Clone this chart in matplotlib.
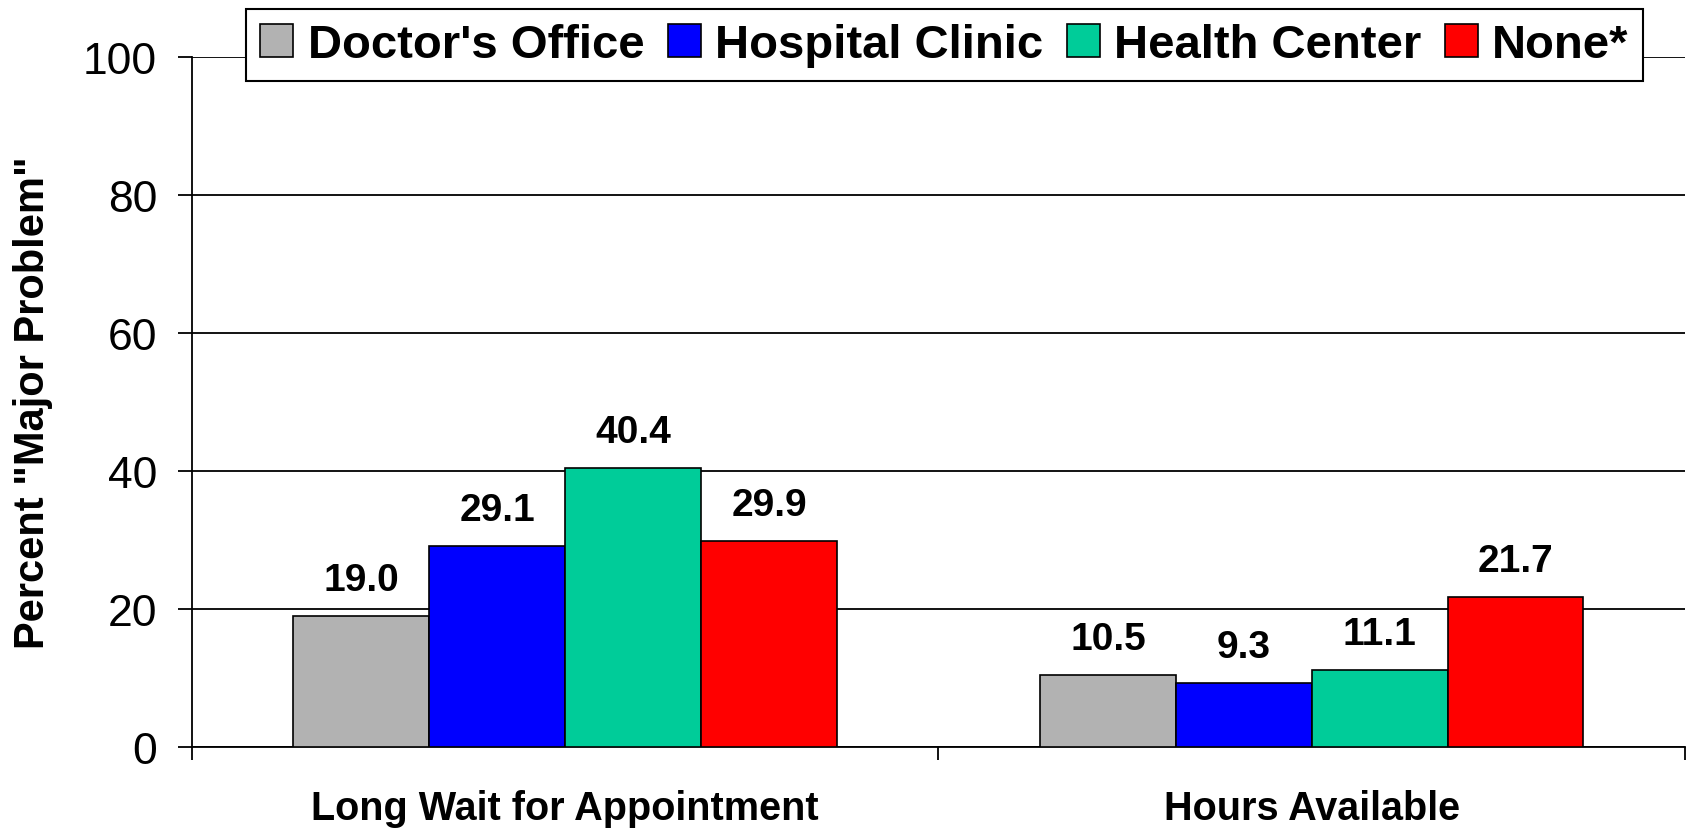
import matplotlib
matplotlib.use("Agg")
import matplotlib.pyplot as plt
import numpy as np

categories = ["Long Wait for Appointment", "Hours Available"]
series_names = ["Doctor's Office", "Hospital Clinic", "Health Center", "None*"]
doctors_office = [19.0, 10.5]
hospital_clinic = [29.1, 9.3]
health_center = [40.4, 11.1]
none_star = [29.9, 21.7]
colors = ["#B2B2B2", "#0000FF", "#00CC99", "#FF0000"]
yticks = [0, 20, 40, 60, 80, 100]

series = [doctors_office, hospital_clinic, health_center, none_star]

plt.rcParams['font.family'] = ['Liberation Sans', 'DejaVu Sans']

fig = plt.figure(figsize=(16.94, 8.29), dpi=100)
ax = fig.add_axes([0.1133, 0.0977, 0.9947 - 0.1133, 0.930 - 0.0977])

x = np.arange(len(categories))
bw = 0.182
for i, (vals, name, c) in enumerate(zip(series, series_names, colors)):
    pos = x + (i - 1.5) * bw
    bars = ax.bar(pos, vals, bw, color=c, edgecolor='black', linewidth=1.2,
                  label=name, zorder=3)
    for b, v in zip(bars, vals):
        ax.annotate(f"{v:.1f}", (b.get_x() + b.get_width() / 2, v),
                    xytext=(0, 13), textcoords='offset points',
                    ha='center', va='bottom', fontsize=28, fontweight='bold')

ax.set_xlim(-0.5, 1.5)
ax.set_ylim(0, 100)
ax.set_yticks(yticks)
ax.set_yticklabels([str(t) for t in yticks], fontsize=32)
ax.yaxis.grid(True, color='black', linewidth=1.3, zorder=0)
ax.set_axisbelow(True)

ax.set_xticks(x)
ax.set_xticklabels(categories, fontsize=28.5, fontweight='bold')
ax.set_xticks([-0.5, 0.5, 1.5], minor=True)
ax.tick_params(axis='x', which='major', length=0, pad=30)
ax.tick_params(axis='x', which='minor', length=9, width=1.3, direction='out')
ax.tick_params(axis='y', length=10, width=1.3, direction='out', pad=15)

for s in ['top', 'right']:
    ax.spines[s].set_visible(False)
for s in ['left', 'bottom']:
    ax.spines[s].set_linewidth(1.3)

ax.set_ylabel('Percent "Major Problem"', fontsize=30, fontweight='bold', labelpad=22)

leg = ax.legend(loc='center', bbox_to_anchor=(0.504, 1.017), ncol=4,
                prop={'weight': 'bold', 'size': 34},
                frameon=True, fancybox=False, framealpha=1, edgecolor='black',
                handlelength=0.7, handleheight=0.7, handletextpad=0.3,
                columnspacing=0.5, borderpad=0.3, borderaxespad=0)
leg.get_frame().set_linewidth(1.5)
leg.set_zorder(5)

fig.savefig("out.png", dpi=100)
